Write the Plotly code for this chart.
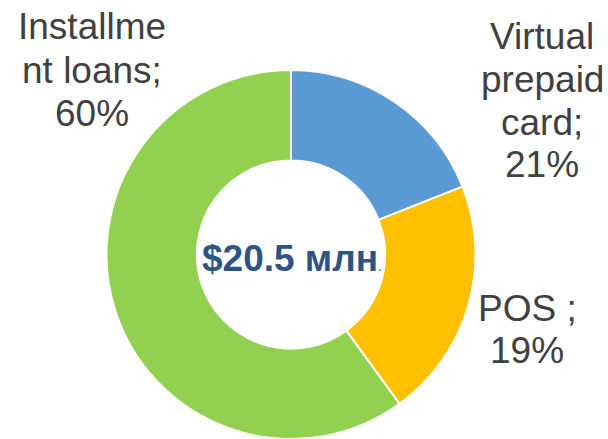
import plotly.graph_objects as go

# Data
categories = ["Virtual prepaid card", "POS", "Installment loans"]
slice_values = [19, 21, 60]
slice_colors = ["#5B9BD5", "#FFC000", "#92D050"]
label_lines = [
    ["Virtual", "prepaid", "card;", "21%"],
    ["POS ;", "19%"],
    ["Installme", "nt loans;", "60%"],
]
center_text = "$20.5 млн"

W, H = 608, 439

fig = go.Figure(go.Pie(
    labels=categories,
    values=slice_values,
    marker=dict(colors=slice_colors, line=dict(color="white", width=2)),
    hole=0.51,
    sort=False,
    direction="clockwise",
    rotation=0,
    textinfo="none",
    hoverinfo="none",
    showlegend=False,
    domain=dict(x=[106.5 / W, 475.5 / W], y=[0, 1 - 70 / H]),
))

# label positions: (center x px, first baseline y px, line spacing px)
label_pos = [(542, 50, 42.7), (527, 322, 42), (92, 40, 43.5)]
fs = 37
for lines, (cx, by, sp) in zip(label_lines, label_pos):
    for i, line in enumerate(lines):
        base = by + i * sp
        ymid = base - 0.36 * fs
        fig.add_annotation(
            x=cx / W, y=1 - ymid / H, xref="paper", yref="paper",
            text=line, showarrow=False, xanchor="center", yanchor="middle",
            font=dict(family="Liberation Sans, Arial, sans-serif", size=fs, color="#404040"),
        )

fig.add_annotation(
    x=292 / W, y=1 - 258 / H, xref="paper", yref="paper",
    text="<b>" + center_text + "</b><span style='font-size:14px'>.</span>",
    showarrow=False, xanchor="center", yanchor="middle",
    font=dict(family="Liberation Sans, Arial, sans-serif", size=37, color="#2C5585"),
)

fig.update_layout(
    width=W, height=H,
    margin=dict(l=0, r=0, t=0, b=0),
    paper_bgcolor="white", plot_bgcolor="white",
)

fig.write_html(
    "out.html",
    config={"displayModeBar": False},
    post_script="document.body.style.margin='0';document.body.style.overflow='hidden';",
)
